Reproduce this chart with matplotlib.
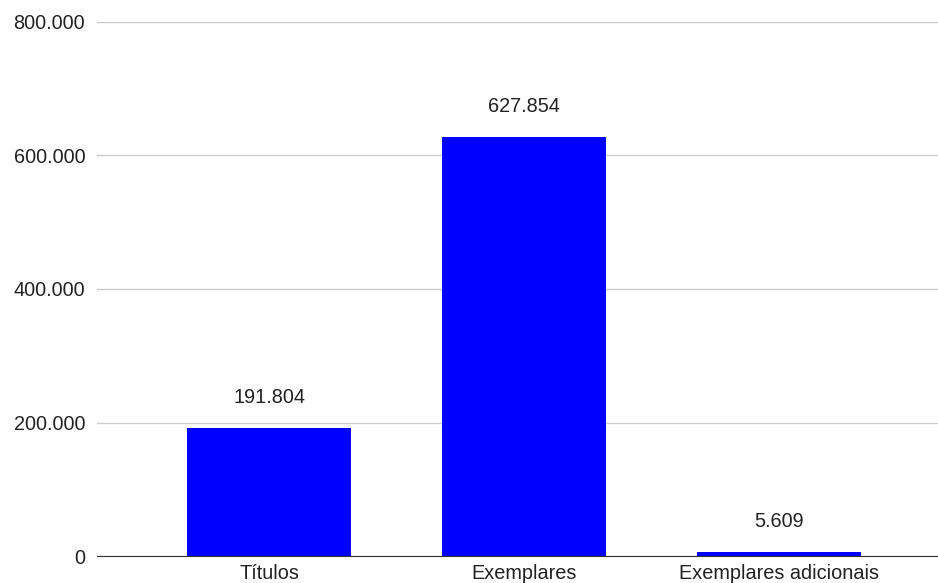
import matplotlib
matplotlib.use("Agg")
import matplotlib.pyplot as plt
from matplotlib.ticker import FuncFormatter

categorias = ["Títulos", "Exemplares", "Exemplares adicionais"]
valores = [191804, 627854, 5609]
yticks = [0, 200000, 400000, 600000, 800000]

plt.rcParams['font.family'] = ['Liberation Sans', 'DejaVu Sans']

def fmt(v, pos=None):
    return f"{int(v):,}".replace(",", ".")

fig = plt.figure(figsize=(9.38, 5.83), dpi=100)
ax = fig.add_axes([0.1034, 0.0463, 0.8966, 0.916])

x = range(len(categorias))
bars = ax.bar(x, valores, width=0.643, color="#0000ff", zorder=3)
for b, v in zip(bars, valores):
    ax.annotate(fmt(v), (b.get_x() + b.get_width() / 2, v), xytext=(0, 15),
                textcoords="offset points", ha="center", va="bottom",
                fontsize=14.3, color="#222222")

ax.set_xlim(-0.675, 2.624)
ax.set_ylim(0, 800000)
ax.set_yticks(yticks)
ax.yaxis.set_major_formatter(FuncFormatter(fmt))
ax.set_xticks(list(x))
ax.set_xticklabels(categorias)
ax.tick_params(axis="both", length=0, labelsize=14.3, colors="#222222")
ax.tick_params(axis="y", pad=8.5)
ax.tick_params(axis="x", pad=6)
ax.grid(axis="y", color="#cccccc", linewidth=1, zorder=0)
for s in ["top", "right", "left"]:
    ax.spines[s].set_visible(False)
ax.spines["bottom"].set_color("#333333")
ax.spines["bottom"].set_zorder(4)

plt.savefig("out.png", dpi=100)
